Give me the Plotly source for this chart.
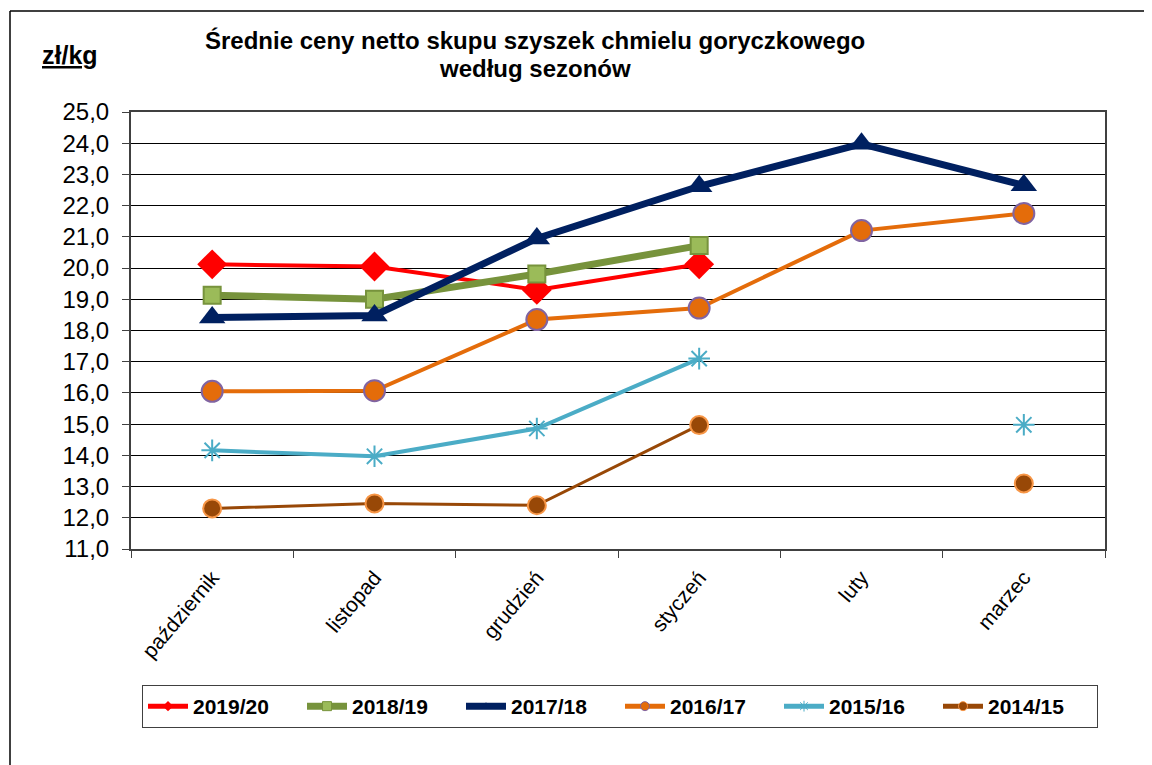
import plotly.graph_objects as go

months = ["październik", "listopad", "grudzień", "styczeń", "luty", "marzec"]
s2019_20 = [20.12, 20.05, 19.3, 20.12, None, None]
s2018_19 = [19.13, 19.0, 19.81, 20.72, None, None]
s2017_18 = [18.42, 18.48, 20.95, 22.62, 23.98, 22.65]
s2016_17 = [16.05, 16.07, 18.35, 18.72, 21.2, 21.75]
s2015_16 = [14.16, 13.97, 14.86, 17.1, None, 14.98]
s2014_15 = [12.3, 12.46, 12.4, 14.97, None, 13.1]
yticks = [11, 12, 13, 14, 15, 16, 17, 18, 19, 20, 21, 22, 23, 24, 25]

series = [
    ("2019/20", s2019_20, "#FF0000", 4, dict(symbol="diamond", size=23, color="#FF0000"),
     dict(symbol="diamond", size=8, color="#FF0000")),
    ("2018/19", s2018_19, "#77933C", 7, dict(symbol="square", size=17, color="#9BBB59", line=dict(color="#77933C", width=2)),
     dict(symbol="square", size=9, color="#9BBB59", line=dict(color="#77933C", width=1))),
    ("2017/18", s2017_18, "#002060", 7, dict(symbol="triangle-up", size=23, color="#002060"),
     dict(symbol="triangle-up", size=8, color="#002060")),
    ("2016/17", s2016_17, "#E46C0A", 4, dict(symbol="circle", size=21, color="#E46C0A", line=dict(color="#8064A2", width=2)),
     dict(symbol="circle", size=9, color="#E46C0A", line=dict(color="#8064A2", width=1))),
    ("2015/16", s2015_16, "#4BACC6", 4, dict(symbol="asterisk-open", size=18, color="#4BACC6", line=dict(color="#4BACC6", width=2)),
     dict(symbol="asterisk-open", size=9, color="#4BACC6", line=dict(color="#4BACC6", width=1))),
    ("2014/15", s2014_15, "#984807", 3, dict(symbol="circle", size=18, color="#984807", line=dict(color="#F79646", width=2)),
     dict(symbol="circle", size=9, color="#984807", line=dict(color="#F79646", width=1))),
]

fig = go.Figure()
for name, vals, col, lw, mk, lmk in series:
    fig.add_trace(go.Scatter(x=months, y=vals, name=name, mode="lines+markers",
                             line=dict(color=col, width=lw), marker=mk, connectgaps=False,
                             showlegend=False))
for name, vals, col, lw, mk, lmk in series:
    fig.add_trace(go.Scatter(x=[None], y=[None], name=name, mode="lines+markers",
                             line=dict(color=col, width=max(lw, 5)), marker=lmk, showlegend=True))

OFF = 8  # page body margin
W, H = 1152 - OFF, 765 - OFF
L, R, T, B = 131 - OFF, 1105 - OFF, 112 - OFF, 549 - OFF
def px(x):
    return (x - OFF - L) / (R - L)
def py(y):
    return (B - (y - OFF)) / (B - T)

FONT = "Liberation Sans, Arial, sans-serif"

fig.update_layout(
    width=W, height=H,
    margin=dict(l=L, r=W - R, t=T, b=H - B, pad=0),
    paper_bgcolor="white", plot_bgcolor="white",
    separators=", ",
    font=dict(family=FONT, color="black"),
    showlegend=True,
    legend=dict(orientation="h", x=px(620), xanchor="center", y=py(685), yanchor="top",
                bordercolor="#404040", borderwidth=1, bgcolor="white",
                font=dict(size=21, family=FONT, weight="bold"),
                entrywidth=104, entrywidthmode="pixels", itemwidth=40, tracegroupgap=0),
    xaxis=dict(type="category", range=[-0.5, 5.5], showgrid=False,
               showline=True, linecolor="#404040", linewidth=2, mirror=True,
               ticks="outside", ticklen=7, tickcolor="#404040", tickson="boundaries",
               tickangle=-50, tickfont=dict(size=21), ticklabelstandoff=6),
    yaxis=dict(range=[11, 25], tickvals=yticks, tickformat=".1f",
               showgrid=True, gridcolor="#000000", gridwidth=1,
               showline=True, linecolor="#404040", linewidth=2, mirror=True,
               ticks="outside", ticklen=7, tickcolor="#404040",
               tickfont=dict(size=24), zeroline=False, ticklabelstandoff=8),
    annotations=[
        dict(text="Średnie ceny netto skupu szyszek chmielu goryczkowego", x=px(535), y=py(40),
             xref="paper", yref="paper", showarrow=False, xanchor="center", yanchor="middle",
             font=dict(size=24, family=FONT, weight="bold")),
        dict(text="według sezonów", x=px(535), y=py(68),
             xref="paper", yref="paper", showarrow=False, xanchor="center", yanchor="middle",
             font=dict(size=24, family=FONT, weight="bold")),
        dict(text="<u>zł/kg</u>", x=px(70), y=py(55),
             xref="paper", yref="paper", showarrow=False, xanchor="center", yanchor="middle",
             font=dict(size=25, family=FONT, weight="bold")),
    ],
    shapes=[
        dict(type="line", xref="paper", yref="paper", x0=px(10), x1=px(1152), y0=py(11), y1=py(11),
             line=dict(color="#000000", width=1.5)),
        dict(type="line", xref="paper", yref="paper", x0=px(10), x1=px(10), y0=py(11), y1=py(765),
             line=dict(color="#000000", width=1.5)),
    ],
)

fig.write_html("out.html")
